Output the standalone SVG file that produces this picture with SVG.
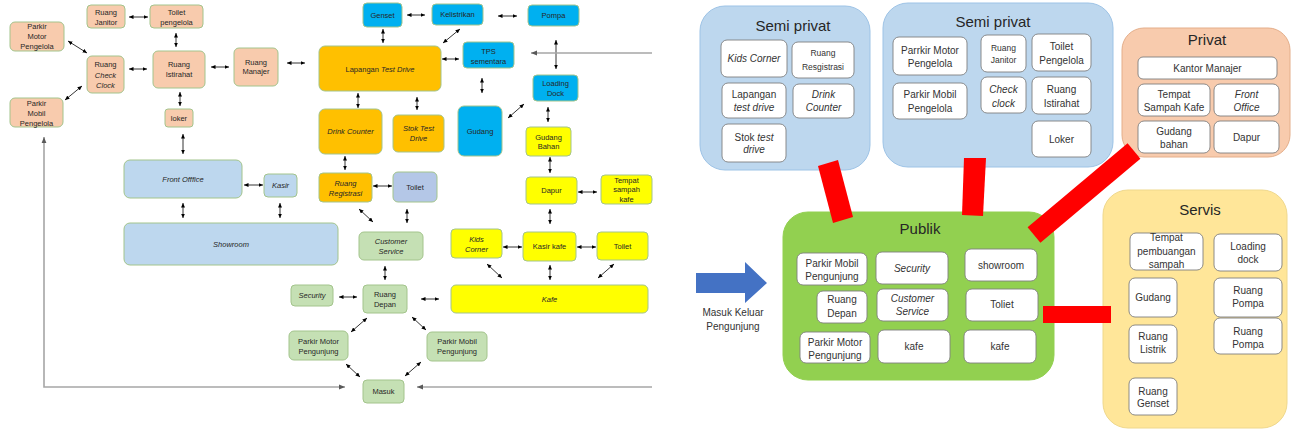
<svg xmlns="http://www.w3.org/2000/svg" width="1294" height="432" viewBox="0 0 1294 432">
<style>
.n{stroke:#A3C48C;stroke-width:1}
.o{fill:#F8CBAD}.y{fill:#FFC000}.b{fill:#00B0F0}.lb{fill:#BDD7EE}.ye{fill:#FFFF00}.g{fill:#C5E0B4}.lv{fill:#B4C7E7}
.t{font-family:"Liberation Sans",Arial,sans-serif;font-size:7.5px;fill:#262626;text-anchor:middle}
.i{font-style:italic}
.a{stroke:#000;stroke-width:0.8;fill:none;marker-start:url(#ah);marker-end:url(#ah)}
.gl{stroke:#A6A6A6;stroke-width:1.6;fill:none}
.sp{fill:#BDD7EE;stroke:#9DC3E6}
.pv{fill:#F8CBAD;stroke:#E4AE8A}
.sv{fill:#FFE699;stroke:#EFD88C}
.pb{fill:#92D050;stroke:#92D050}
.w{fill:#FFFFFF;stroke:#7F7F7F;stroke-width:0.9}
.T{font-family:"Liberation Sans",Arial,sans-serif;font-size:10px;fill:#333;text-anchor:middle}
.s{font-size:8.5px}
.H{font-family:"Liberation Sans",Arial,sans-serif;font-size:15px;fill:#262626;text-anchor:middle}
.red{fill:#FF0000}
</style>
<defs>
<marker id="ah" viewBox="0 0 10 10" refX="10" refY="5" markerWidth="4.5" markerHeight="4.5" markerUnits="userSpaceOnUse" orient="auto-start-reverse"><path d="M0,0.5 L10,5 L0,9.5 z" fill="#000"/></marker>
<marker id="gh" viewBox="0 0 10 10" refX="10" refY="5" markerWidth="6" markerHeight="6" markerUnits="userSpaceOnUse" orient="auto-start-reverse"><path d="M0,1 L10,5 L0,9 z" fill="#595959"/></marker>
</defs>
<rect width="1294" height="432" fill="#FFFFFF"/>

<g id="connectors">
<path class="a" d="M129,17 H148"/>
<path class="a" d="M176,33 V47"/>
<path class="a" d="M68,41 L87,53"/>
<path class="a" d="M65,100 L82,86"/>
<path class="a" d="M129,69 H147"/>
<path class="a" d="M211,67 H229"/>
<path class="a" d="M180,92 V106"/>
<path class="a" d="M183,134 V154"/>
<path class="a" d="M287,63 H305"/>
<path class="a" d="M383,29 V43"/>
<path class="a" d="M407,15 H425"/>
<path class="a" d="M443,43 L460,29"/>
<path class="a" d="M442,59 H459"/>
<path class="a" d="M498,16 H517"/>
<path class="a" d="M556,40 V69"/>
<path class="a" d="M482,78 V93"/>
<path class="a" d="M508,118 L524,104"/>
<path class="a" d="M548,107 V122"/>
<path class="a" d="M358,93 V108"/>
<path class="a" d="M417,97 V110"/>
<path class="a" d="M345,156 V170"/>
<path class="a" d="M373,186 H392"/>
<path class="a" d="M359,209 L373,222"/>
<path class="a" d="M407,209 V223"/>
<path class="a" d="M385,266 V280"/>
<path class="a" d="M244,185 H263"/>
<path class="a" d="M183,203 V218"/>
<path class="a" d="M280,203 V218"/>
<path class="a" d="M550,157 V173"/>
<path class="a" d="M578,192 H597"/>
<path class="a" d="M550,209 V224"/>
<path class="a" d="M503,247 H522"/>
<path class="a" d="M577,247 H596"/>
<path class="a" d="M487,264 L502,278"/>
<path class="a" d="M550,265 V280"/>
<path class="a" d="M614,264 L598,278"/>
<path class="a" d="M339,297 H357"/>
<path class="a" d="M421,299 H439"/>
<path class="a" d="M367,318 L351,332"/>
<path class="a" d="M412,317 L426,330"/>
<path class="a" d="M346,364 L360,377"/>
<path class="a" d="M421,362 L405,376"/>
<path class="gl" d="M44,137 V387 H345" marker-start="url(#gh)" marker-end="url(#gh)"/>
<path class="gl" d="M652,387 H417" marker-end="url(#gh)"/>
<path class="gl" d="M652,53 H531" marker-end="url(#gh)"/>
</g>

<g id="parkir-motor-pengelola"><rect class="n o" x="10" y="22" width="54" height="29" rx="5"/><text class="t" x="37" y="28.5">Parkir</text><text class="t" x="37" y="38.5">Motor</text><text class="t" x="37" y="48.5">Pengelola</text></g>
<g id="ruang-janitor"><rect class="n o" x="87" y="5" width="38" height="23" rx="4"/><text class="t" x="106" y="14.5">Ruang</text><text class="t" x="106" y="24.5">Janitor</text></g>
<g id="toilet-pengelola"><rect class="n o" x="150" y="5" width="53" height="23" rx="4"/><text class="t" x="176.5" y="14.5">Toilet</text><text class="t" x="176.5" y="24.5">pengelola</text></g>
<g id="ruang-check-clock"><rect class="n o" x="87" y="56" width="37" height="37" rx="5"/><text class="t" x="105.5" y="66.5">Ruang</text><text class="t i" x="105.5" y="77.5">Check</text><text class="t i" x="105.5" y="87.5">Clock</text></g>
<g id="ruang-istirahat"><rect class="n o" x="153" y="51" width="52" height="37" rx="5"/><text class="t" x="179" y="66.5">Ruang</text><text class="t" x="179" y="76.5">Istirahat</text></g>
<g id="loker"><rect class="n o" x="165" y="109" width="28" height="18" rx="3"/><text class="t" x="179" y="120.5">loker</text></g>
<g id="parkir-mobil-pengelola"><rect class="n o" x="10" y="98" width="53" height="29" rx="5"/><text class="t" x="36.5" y="105.5">Parkir</text><text class="t" x="36.5" y="115.5">Mobil</text><text class="t" x="36.5" y="125.5">Pengelola</text></g>
<g id="ruang-manajer"><rect class="n o" x="234" y="48" width="44" height="38" rx="5"/><text class="t" x="256" y="64.5">Ruang</text><text class="t" x="256" y="73.5">Manajer</text></g>
<g id="lapangan-test-drive"><rect class="n y" x="319" y="46" width="122" height="45" rx="6"/><text class="t" x="380" y="71.5">Lapangan <tspan class="i">Test Drive</tspan></text></g>
<g id="genset"><rect class="n b" x="363" y="3" width="39" height="24" rx="4"/><text class="t" x="382.5" y="17.5">Genset</text></g>
<g id="kelistrikan"><rect class="n b" x="432" y="4" width="51" height="21" rx="4"/><text class="t" x="457.5" y="17">Kelistrikan</text></g>
<g id="pompa"><rect class="n b" x="528" y="5" width="51" height="21" rx="4"/><text class="t" x="553.5" y="18">Pompa</text></g>
<g id="tps-sementara"><rect class="n b" x="463" y="42" width="51" height="26" rx="4"/><text class="t" x="488.5" y="53.5">TPS</text><text class="t" x="488.5" y="63.5">sementara</text></g>
<g id="loading-dock"><rect class="n b" x="533" y="75" width="45" height="26" rx="4"/><text class="t" x="555.5" y="85.5">Loading</text><text class="t" x="555.5" y="95.5">Dock</text></g>
<g id="gudang"><rect class="n b" x="458" y="106" width="44" height="50" rx="6"/><text class="t" x="480" y="133.5">Gudang</text></g>
<g id="drink-counter"><rect class="n y" x="319" y="109" width="63" height="45" rx="6"/><text class="t i" x="350.5" y="134">Drink Counter</text></g>
<g id="stok-test-drive"><rect class="n y" x="393" y="115" width="51" height="37" rx="5"/><text class="t i" x="418.5" y="130.5">Stok Test</text><text class="t i" x="418.5" y="140.5">Drive</text></g>
<g id="gudang-bahan"><rect class="n ye" x="526" y="127" width="45" height="29" rx="4"/><text class="t" x="548.5" y="139.5">Gudang</text><text class="t" x="548.5" y="148.5">Bahan</text></g>
<g id="front-office"><rect class="n lb" x="124" y="160" width="118" height="38" rx="6"/><text class="t i" x="183" y="181.5">Front Offfice</text></g>
<g id="kasir"><rect class="n lb" x="264" y="174" width="33" height="23" rx="4"/><text class="t i" x="280.5" y="188">Kasir</text></g>
<g id="showroom"><rect class="n lb" x="124" y="223" width="214" height="42" rx="6"/><text class="t i" x="231" y="246.5">Showroom</text></g>
<g id="ruang-registrasi"><rect class="n y" x="319" y="173" width="53" height="29" rx="4"/><text class="t i" x="345.5" y="185.5">Ruang</text><text class="t i" x="345.5" y="195.5">Registrasi</text></g>
<g id="toilet"><rect class="n lv" x="393" y="172" width="44" height="30" rx="5"/><text class="t" x="415" y="189.5">Toilet</text></g>
<g id="customer-service"><rect class="n g" x="359" y="232" width="64" height="28" rx="5"/><text class="t i" x="391" y="243.5">Customer</text><text class="t i" x="391" y="253.5">Service</text></g>
<g id="dapur"><rect class="n ye" x="526" y="177" width="51" height="27" rx="4"/><text class="t" x="551.5" y="193">Dapur</text></g>
<g id="tempat-sampah-kafe"><rect class="n ye" x="601" y="175" width="51" height="29" rx="4"/><text class="t" x="626.5" y="182.5">Tempat</text><text class="t" x="626.5" y="191.5">sampah</text><text class="t" x="626.5" y="201.5">kafe</text></g>
<g id="kids-corner"><rect class="n ye" x="451" y="229" width="51" height="29" rx="4"/><text class="t i" x="476.5" y="241.5">Kids</text><text class="t i" x="476.5" y="251.5">Corner</text></g>
<g id="kasir-kafe"><rect class="n ye" x="523" y="232" width="53" height="29" rx="4"/><text class="t" x="549.5" y="249">Kasir kafe</text></g>
<g id="toilet-kafe"><rect class="n ye" x="597" y="232" width="51" height="28" rx="4"/><text class="t" x="622.5" y="248.5">Toilet</text></g>
<g id="kafe"><rect class="n ye" x="451" y="285" width="197" height="28" rx="5"/><text class="t i" x="549.5" y="301.5">Kafe</text></g>
<g id="security"><rect class="n g" x="291" y="285" width="42" height="21" rx="4"/><text class="t i" x="312" y="298">Security</text></g>
<g id="ruang-depan"><rect class="n g" x="363" y="285" width="44" height="28" rx="4"/><text class="t" x="385" y="296.5">Ruang</text><text class="t" x="385" y="306.5">Depan</text></g>
<g id="parkir-motor-pengunjung"><rect class="n g" x="289" y="331" width="59" height="29" rx="5"/><text class="t" x="318.5" y="343.5">Parkir Motor</text><text class="t" x="318.5" y="353.5">Pengunjung</text></g>
<g id="parkir-mobil-pengunjung"><rect class="n g" x="427" y="332" width="60" height="29" rx="5"/><text class="t" x="457" y="343.5">Parkir Mobil</text><text class="t" x="457" y="353.5">Pengunjung</text></g>
<g id="masuk"><rect class="n g" x="363" y="380" width="41" height="23" rx="4"/><text class="t" x="383.5" y="394">Masuk</text></g>

<g id="semi-privat-1">
<rect class="sp" x="700" y="6" width="170" height="164" rx="25"/>
<text class="H" x="793" y="30.5">Semi privat</text>
<rect class="w" x="721" y="40" width="66" height="37" rx="6"/><text class="T i" x="754" y="62">Kids Corner</text>
<rect class="w" x="792" y="42" width="62" height="36" rx="6"/><text class="T s" x="823" y="56">Ruang</text><text class="T s" x="823" y="70">Resgistrasi</text>
<rect class="w" x="722" y="83" width="64" height="35" rx="6"/><text class="T" x="754" y="97.5">Lapangan</text><text class="T i" x="754" y="110.5">test drive</text>
<rect class="w" x="793" y="84" width="61" height="34" rx="6"/><text class="T i" x="823.5" y="97.5">Drink</text><text class="T i" x="823.5" y="110.5">Counter</text>
<rect class="w" x="722" y="124" width="64" height="38" rx="6"/><text class="T" x="754" y="140.5">Stok <tspan class="i">test</tspan></text><text class="T i" x="754" y="153">drive</text>
</g>

<g id="semi-privat-2">
<rect class="sp" x="883" y="3" width="230" height="164" rx="25"/>
<text class="H" x="993" y="26.5">Semi privat</text>
<rect class="w" x="893" y="37" width="74" height="38" rx="6"/><text class="T" x="930" y="53.5">Parrkir Motor</text><text class="T" x="930" y="66.5">Pengelola</text>
<rect class="w" x="893" y="83" width="74" height="36" rx="6"/><text class="T" x="930" y="97.5">Parkir Mobil</text><text class="T" x="930" y="111.5">Pengelola</text>
<rect class="w" x="981" y="35" width="45" height="37" rx="6"/><text class="T s" x="1003.5" y="51">Ruang</text><text class="T s" x="1003.5" y="63">Janitor</text>
<rect class="w" x="981" y="77" width="45" height="36" rx="6"/><text class="T i" x="1003.5" y="92.5">Check</text><text class="T i" x="1003.5" y="106.5">clock</text>
<rect class="w" x="1032" y="34" width="59" height="37" rx="6"/><text class="T" x="1061.5" y="49.5">Toilet</text><text class="T" x="1061.5" y="63.5">Pengelola</text>
<rect class="w" x="1032" y="77" width="59" height="37" rx="6"/><text class="T" x="1061.5" y="92.5">Ruang</text><text class="T" x="1061.5" y="106.5">Istirahat</text>
<rect class="w" x="1032" y="121" width="59" height="36" rx="6"/><text class="T" x="1061.5" y="142.5">Loker</text>
</g>

<g id="privat">
<rect class="pv" x="1122" y="28" width="168" height="129" rx="22"/>
<text class="H" x="1207" y="44.5">Privat</text>
<rect class="w" x="1138" y="57" width="139" height="22" rx="5"/><text class="T" x="1207.5" y="71.5">Kantor Manajer</text>
<rect class="w" x="1138" y="84" width="72" height="32" rx="6"/><text class="T" x="1174" y="97.5">Tempat</text><text class="T" x="1174" y="110.5">Sampah Kafe</text>
<rect class="w" x="1214" y="84" width="65" height="32" rx="6"/><text class="T i" x="1246.5" y="97.5">Front</text><text class="T i" x="1246.5" y="110.5">Office</text>
<rect class="w" x="1138" y="121" width="72" height="32" rx="6"/><text class="T" x="1174" y="134.5">Gudang</text><text class="T" x="1174" y="147.5">bahan</text>
<rect class="w" x="1214" y="121" width="65" height="32" rx="6"/><text class="T" x="1246.5" y="140.5">Dapur</text>
</g>

<g id="publik">
<rect class="pb" x="783" y="212" width="271" height="168" rx="25"/>
<text class="H" x="920" y="233.5">Publik</text>
<rect class="w" x="797" y="253" width="70" height="32" rx="6"/><text class="T" x="832" y="266.5">Parkir Mobil</text><text class="T" x="832" y="279.5">Pengunjung</text>
<rect class="w" x="876" y="252" width="72" height="32" rx="6"/><text class="T i" x="912" y="271.5">Security</text>
<rect class="w" x="965" y="249" width="72" height="32" rx="6"/><text class="T" x="1001" y="268.5">showroom</text>
<rect class="w" x="817" y="291" width="50" height="32" rx="6"/><text class="T" x="842" y="302.5">Ruang</text><text class="T" x="842" y="316.5">Depan</text>
<rect class="w" x="877" y="289" width="71" height="32" rx="6"/><text class="T i" x="912.5" y="301.5">Customer</text><text class="T i" x="912.5" y="314.5">Service</text>
<rect class="w" x="966" y="289" width="72" height="32" rx="6"/><text class="T" x="1002" y="307.5">Toliet</text>
<rect class="w" x="800" y="332" width="70" height="31" rx="6"/><text class="T" x="835" y="345.5">Parkir Motor</text><text class="T" x="835" y="358.5">Pengunjung</text>
<rect class="w" x="878" y="330" width="72" height="33" rx="6"/><text class="T" x="914" y="349.5">kafe</text>
<rect class="w" x="964" y="330" width="72" height="33" rx="6"/><text class="T" x="1000" y="349.5">kafe</text>
</g>

<g id="servis">
<rect class="sv" x="1103" y="190" width="184" height="238" rx="25"/>
<text class="H" x="1200" y="214.5">Servis</text>
<rect class="w" x="1130" y="233" width="73" height="37" rx="6"/><text class="T" x="1166.5" y="241">Tempat</text><text class="T" x="1166.5" y="254.5">pembuangan</text><text class="T" x="1166.5" y="267.5">sampah</text>
<rect class="w" x="1214" y="234" width="68" height="37" rx="6"/><text class="T" x="1248" y="249.5">Loading</text><text class="T" x="1248" y="262.5">dock</text>
<rect class="w" x="1129" y="278" width="48" height="39" rx="6"/><text class="T" x="1153" y="300.5">Gudang</text>
<rect class="w" x="1214" y="278" width="68" height="39" rx="6"/><text class="T" x="1248" y="293.5">Ruang</text><text class="T" x="1248" y="306.5">Pompa</text>
<rect class="w" x="1129" y="325" width="48" height="38" rx="6"/><text class="T" x="1153" y="339.5">Ruang</text><text class="T" x="1153" y="352.5">Listrik</text>
<rect class="w" x="1214" y="318" width="68" height="36" rx="6"/><text class="T" x="1248" y="334.5">Ruang</text><text class="T" x="1248" y="347.5">Pompa</text>
<rect class="w" x="1129" y="378" width="48" height="37" rx="6"/><text class="T" x="1153" y="394.5">Ruang</text><text class="T" x="1153" y="406.5">Genset</text>
</g>

<g id="zone-links">
<polygon class="red" points="818,166 838,160 853,217 833,223"/>
<polygon class="red" points="964,158 986,158 983,216 962,215"/>
<polygon class="red" points="1127.6,143.3 1140.4,158.7 1040.4,242.7 1027.6,227.3"/>
<rect class="red" x="1043" y="306" width="68" height="17"/>
</g>

<g id="entry-arrow">
<polygon points="696,273 745,273 745,262 767,283 745,303 745,293 696,293" fill="#4472C4"/>
<text class="T" x="733" y="316" fill="#404040">Masuk Keluar</text>
<text class="T" x="733" y="329.5" fill="#404040">Pengunjung</text>
</g>
</svg>
